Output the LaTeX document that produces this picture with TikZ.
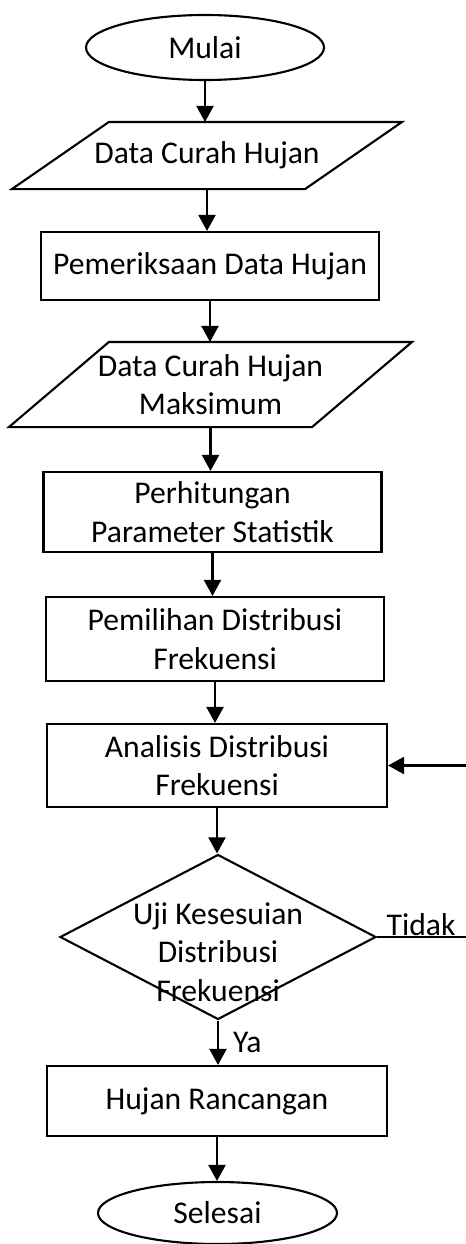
\documentclass[tikz,border=0pt]{standalone}
\usepackage{fontspec}
\setmainfont{Carlito}
\usetikzlibrary{shapes.geometric, arrows.meta, positioning}

\begin{document}
\begin{tikzpicture}[
  box/.style={draw, line width=0.6pt, align=center, inner sep=0.05cm, font=\fontsize{9}{11}\selectfont},
  terminal/.style={box, ellipse, minimum width=2.38cm, minimum height=0.65cm},
  datain/.style={box, draw=none, rectangle},
  edge/.style={line width=0.6pt},
  process/.style={box, rectangle, minimum width=3.38cm},
  decision/.style={box, diamond, shape aspect=1.9, inner ysep=-0.4cm, minimum width=3.16cm, minimum height=1.65cm},
  flow/.style={-{Triangle[length=0.16cm, width=0.17cm]}, line width=0.6pt},
  tag/.style={font=\fontsize{9}{11}\selectfont, inner sep=0pt}
]
  \useasboundingbox (0,0) rectangle (4.66,-12.44);
  \node[terminal] (mulai) at (2.05,-0.475) {Mulai};
  \node[datain, minimum width=3.88cm, minimum height=0.65cm] (datahujan) at (2.07,-1.555) {Data Curah Hujan};
  \node[process, minimum height=0.68cm] (periksa) at (2.10,-2.66) {Pemeriksaan Data Hujan};
  \node[datain, minimum width=4.01cm, minimum height=0.83cm] (datamaks) at (2.105,-3.845) {Data Curah Hujan\\Maksimum};
  \node[process, minimum height=0.80cm] (hitung) at (2.125,-5.12) {Perhitungan\\Parameter Statistik};
  \node[process, minimum height=0.84cm] (pilih) at (2.15,-6.39) {Pemilihan Distribusi\\Frekuensi};
  \node[process, minimum width=3.40cm, minimum height=0.83cm] (analisis) at (2.17,-7.655) {Analisis Distribusi\\Frekuensi};
  \node[decision] (uji) at (2.18,-9.37) {\rule{0pt}{0.52cm}Uji Kesesuian\\Distribusi\\Frekuensi};
  \node[process, minimum width=3.40cm, minimum height=0.70cm] (rancangan) at (2.17,-11.01) {Hujan Rancangan};
  \node[terminal, minimum width=2.39cm, minimum height=0.62cm] (selesai) at (2.175,-12.13) {Selesai};
  \coordinate (back) at (4.75,-9.37);

  % input/output blocks
  \draw[edge] (datahujan.south west) -- ([xshift=0.97cm]datahujan.north west) -- (datahujan.north east) -- ([xshift=-0.97cm]datahujan.south east) -- cycle;
  \draw[edge] (datamaks.south west) -- ([xshift=1.0cm]datamaks.north west) -- (datamaks.north east) -- ([xshift=-1.0cm]datamaks.south east) -- cycle;

  \draw[flow] (mulai.south) -- (mulai.south |- datahujan.north);
  \draw[flow] (datahujan.south) -- (datahujan.south |- periksa.north);
  \draw[flow] (periksa.south) -- (periksa.south |- datamaks.north);
  \draw[flow] (datamaks.south) -- (datamaks.south |- hitung.north);
  \draw[flow] (hitung.south) -- (hitung.south |- pilih.north);
  \draw[flow] (pilih.south) -- (pilih.south |- analisis.north);
  \draw[flow] (analisis.south) -- (analisis.south |- uji.north);
  \draw[flow] (uji.south) -- node[tag, right, xshift=0.14cm] {Ya} (uji.south |- rancangan.north);
  \draw[flow] (rancangan.south) -- (rancangan.south |- selesai.north);
  \draw[flow] (uji.east) -- node[tag, above, pos=0.45] {Tidak} (back) |- (analisis.east);
\end{tikzpicture}
\end{document}
